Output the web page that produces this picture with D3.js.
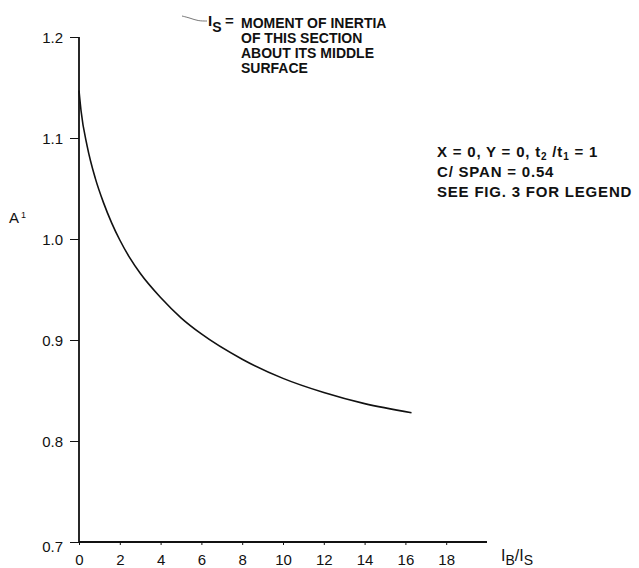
<!DOCTYPE html>
<html>
<head>
<meta charset="utf-8">
<script src="https://cdn.jsdelivr.net/npm/d3@7"></script>
<style>
    body { margin: 0; background: #fff; }
    svg text { font-family: "Liberation Sans", Arial, sans-serif; fill: #111; }
</style>
</head>
<body>
<div id="chart"></div>
<script>
// A' versus I_B/I_S
const ratioIB = [0, 0.1, 0.4, 0.8, 1.2, 1.6, 2, 2.5, 3, 4, 5, 6, 8, 10, 12, 14, 16.3];
const aPrime = [1.147, 1.127, 1.092, 1.060, 1.036, 1.016, 0.999, 0.981, 0.966, 0.942, 0.922, 0.906, 0.881, 0.862, 0.848, 0.837, 0.828];

const xTicks = [0, 2, 4, 6, 8, 10, 12, 14, 16, 18];
const yTicks = [0.7, 0.8, 0.9, 1.0, 1.1, 1.2];

const noteTop = ['MOMENT OF INERTIA', 'OF THIS SECTION', 'ABOUT ITS MIDDLE', 'SURFACE'];
const noteRight = ['C/ SPAN = 0.54', 'SEE FIG. 3 FOR LEGEND'];

const width = 639, height = 568;

const svg = d3.select('#chart')
    .append('svg')
    .attr('width', width)
    .attr('height', height);

const x = d3.scaleLinear().domain([0, 20]).range([79, 487]);
const y = d3.scaleLinear().domain([0.7, 1.2]).range([542, 37]);

// axes
const yAxis = svg.append('g')
    .attr('transform', `translate(${x(0)},0)`)
    .call(d3.axisLeft(y).tickValues(yTicks).tickSize(9).tickPadding(7).tickFormat(d3.format('.1f')));
yAxis.select('.domain').attr('stroke-width', 1.8).attr('d', `M0,${y(0.7)}V${y(1.2)}`);
yAxis.selectAll('.tick line').attr('stroke-width', 1);
yAxis.selectAll('.tick text')
    .style('font-size', '15px')
    .attr('dy', (d) => d === 0.7 ? '0.65em' : '0.35em');

const xAxis = svg.append('g')
    .attr('transform', `translate(0,${y(0.7)})`)
    .call(d3.axisBottom(x).tickValues(xTicks).tickSize(3).tickPadding(9));
xAxis.select('.domain').attr('stroke-width', 1.8).attr('d', `M${x(0)},0H${x(20)}`);
xAxis.selectAll('.tick line').attr('stroke-width', 1);
xAxis.selectAll('.tick text').style('font-size', '15px');
svg.selectAll('.domain, .tick line').attr('stroke', '#111');

// curve
const line = d3.line()
    .x((d, i) => x(ratioIB[i]))
    .y((d) => y(d))
    .curve(d3.curveMonotoneX);

svg.append('path')
    .datum(aPrime)
    .attr('fill', 'none')
    .attr('stroke', '#111')
    .attr('stroke-width', 1.6)
    .attr('d', line);

// axis titles
const yt = svg.append('text').attr('x', 9).attr('y', 223).style('font-size', '15px');
yt.append('tspan').text('A');
yt.append('tspan').attr('dx', 2).attr('dy', -5).style('font-size', '9px').text('1');

const xt = svg.append('text').attr('x', 501).attr('y', 561).style('font-size', '16px');
xt.append('tspan').text('I');
xt.append('tspan').attr('dy', 4).style('font-size', '14px').text('B');
xt.append('tspan').attr('dy', -4).text('/I');
xt.append('tspan').attr('dy', 4).style('font-size', '14px').text('S');

// top note with leader
svg.append('path')
    .attr('d', d3.line().curve(d3.curveBasis)([[182, 16], [190, 18], [198, 21], [207, 21]]))
    .attr('fill', 'none')
    .attr('stroke', '#555')
    .attr('stroke-width', 0.8);

const isLabel = svg.append('text').attr('x', 208).attr('y', 26).style('font-size', '15px').style('font-weight', 'bold');
isLabel.append('tspan').text('I');
isLabel.append('tspan').attr('dy', 6).style('font-size', '14px').text('S');
svg.append('text').attr('x', 225).attr('y', 26)
    .style('font-size', '15px').style('font-weight', 'bold').text('=');

svg.append('g').selectAll('text')
    .data(noteTop)
    .join('text')
    .attr('x', 241)
    .attr('y', (d, i) => 28 + i * 15)
    .style('font-size', '14px')
    .style('font-weight', 'bold')
    .text((d) => d);

// right note
const r1 = svg.append('text').attr('x', 437).attr('y', 157)
    .style('font-size', '15px').style('font-weight', 'bold').style('letter-spacing', '0.8px');
r1.append('tspan').text('X = 0,  Y = 0, t');
r1.append('tspan').attr('dy', 3).style('font-size', '10px').text('2');
r1.append('tspan').attr('dy', -3).text(' /t');
r1.append('tspan').attr('dy', 3).style('font-size', '10px').text('1');
r1.append('tspan').attr('dy', -3).text('  = 1');

svg.append('g').selectAll('text')
    .data(noteRight)
    .join('text')
    .attr('x', 437)
    .attr('y', (d, i) => 177 + i * 20)
    .style('font-size', '15px')
    .style('font-weight', 'bold')
    .style('letter-spacing', '0.8px')
    .text((d) => d);
</script>
</body>
</html>
